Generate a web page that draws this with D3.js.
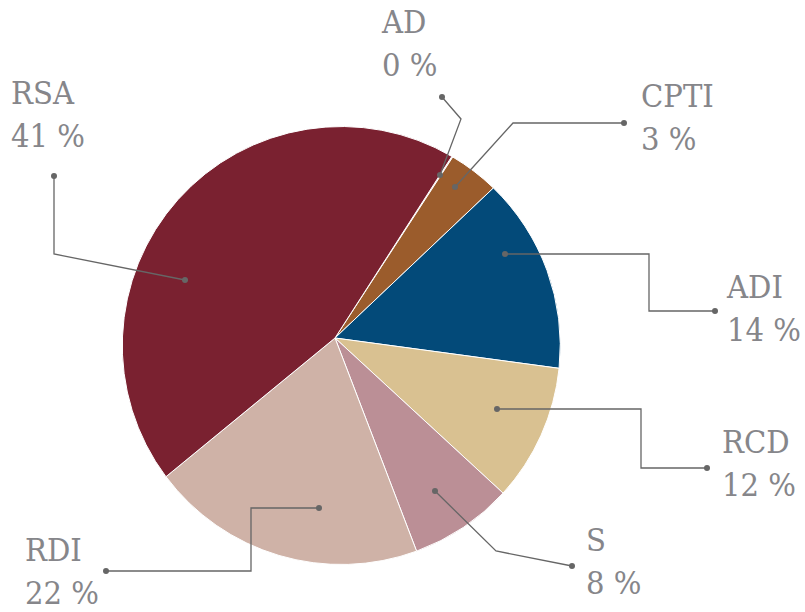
<!DOCTYPE html>
<html>
<head>
<meta charset="utf-8">
<script src="https://cdn.jsdelivr.net/npm/d3@7"></script>
<style>
  body { margin: 0; background: #fff; }
</style>
</head>
<body>
<div id="pie"></div>
<script>
// data (slice shares, labels as printed)
var categories = ["AD", "CPTI", "ADI", "RCD", "S", "RDI", "RSA"];
var shares     = [0.08, 3.72, 14.44, 10.11, 7.64, 20.36, 43.64];
var pctLabels  = ["0 %", "3 %", "14 %", "12 %", "8 %", "22 %", "41 %"];
var colors     = ["#ffffff", "#9b5c2c", "#034a79", "#d9c191", "#bb8f96", "#cfb2a7", "#7a2130"];

// callout layout: anchor dot, elbow points, end dot, label position
var callouts = [
  {pts: [[440, 175], [461, 119], [442, 97]],              lx: 382, ly: 33},
  {pts: [[455, 187], [513, 123], [624, 123]],             lx: 641, ly: 107},
  {pts: [[505, 254], [649, 254], [649, 311], [715, 311]], lx: 727, ly: 298},
  {pts: [[497, 409], [641, 409], [641, 468], [707, 468]], lx: 722, ly: 453},
  {pts: [[435, 491], [496, 551], [572, 566]],             lx: 586, ly: 551},
  {pts: [[319, 508], [251, 508], [251, 571], [106, 571]], lx: 25,  ly: 561},
  {pts: [[185, 280], [54, 254], [54, 176]],               lx: 11,  ly: 104}
];

var width = 805, height = 612;
var cx = 341.3, cy = 345.5, r = 219;   // circle of the pie
var vx = 335, vy = 338;                 // point where the slices meet

var svg = d3.select("#pie")
  .append("svg")
    .attr("width", width)
    .attr("height", height);

var data = categories.map(function(c, i) {
  return {name: c, value: shares[i], pct: pctLabels[i], color: colors[i], co: callouts[i]};
});

var start = 30.31 * Math.PI / 180;
var pie = d3.pie()
  .sort(null)
  .value(d => d.value)
  .startAngle(start)
  .endAngle(start + 2 * Math.PI);

function slicePath(d) {
  var p = d3.path();
  p.moveTo(vx, vy);
  p.lineTo(cx + r * Math.sin(d.startAngle), cy - r * Math.cos(d.startAngle));
  p.arc(cx, cy, r, d.startAngle - Math.PI / 2, d.endAngle - Math.PI / 2, false);
  p.closePath();
  return p.toString();
}

var arcs = pie(data);

svg.append("g")
  .selectAll("path")
  .data(arcs)
  .enter()
  .append("path")
    .attr("d", slicePath)
    .attr("fill", d => d.data.color)
    .attr("stroke", "#fff")
    .attr("stroke-width", 1);

// callout lines
var line = d3.line();
var g = svg.append("g");
arcs.forEach(function(d) {
  var co = d.data.co;
  g.append("path")
    .attr("d", line(co.pts))
    .attr("fill", "none")
    .attr("stroke", "#666")
    .attr("stroke-width", 1.3);
  [co.pts[0], co.pts[co.pts.length - 1]].forEach(function(p) {
    g.append("circle")
      .attr("cx", p[0])
      .attr("cy", p[1])
      .attr("r", 3)
      .attr("fill", "#666");
  });
  // slightly narrowed serif to get close to the original typeface
  var t = g.append("text")
    .attr("transform", "translate(" + co.lx + "," + co.ly + ") scale(0.94,1)")
    .attr("fill", "#86868a")
    .attr("font-family", "'DejaVu Serif', serif")
    .attr("font-size", 31);
  t.append("tspan").attr("x", 0).text(d.data.name);
  t.append("tspan").attr("x", 0).attr("dy", 43.5).text(d.data.pct);
});
</script>
</body>
</html>
